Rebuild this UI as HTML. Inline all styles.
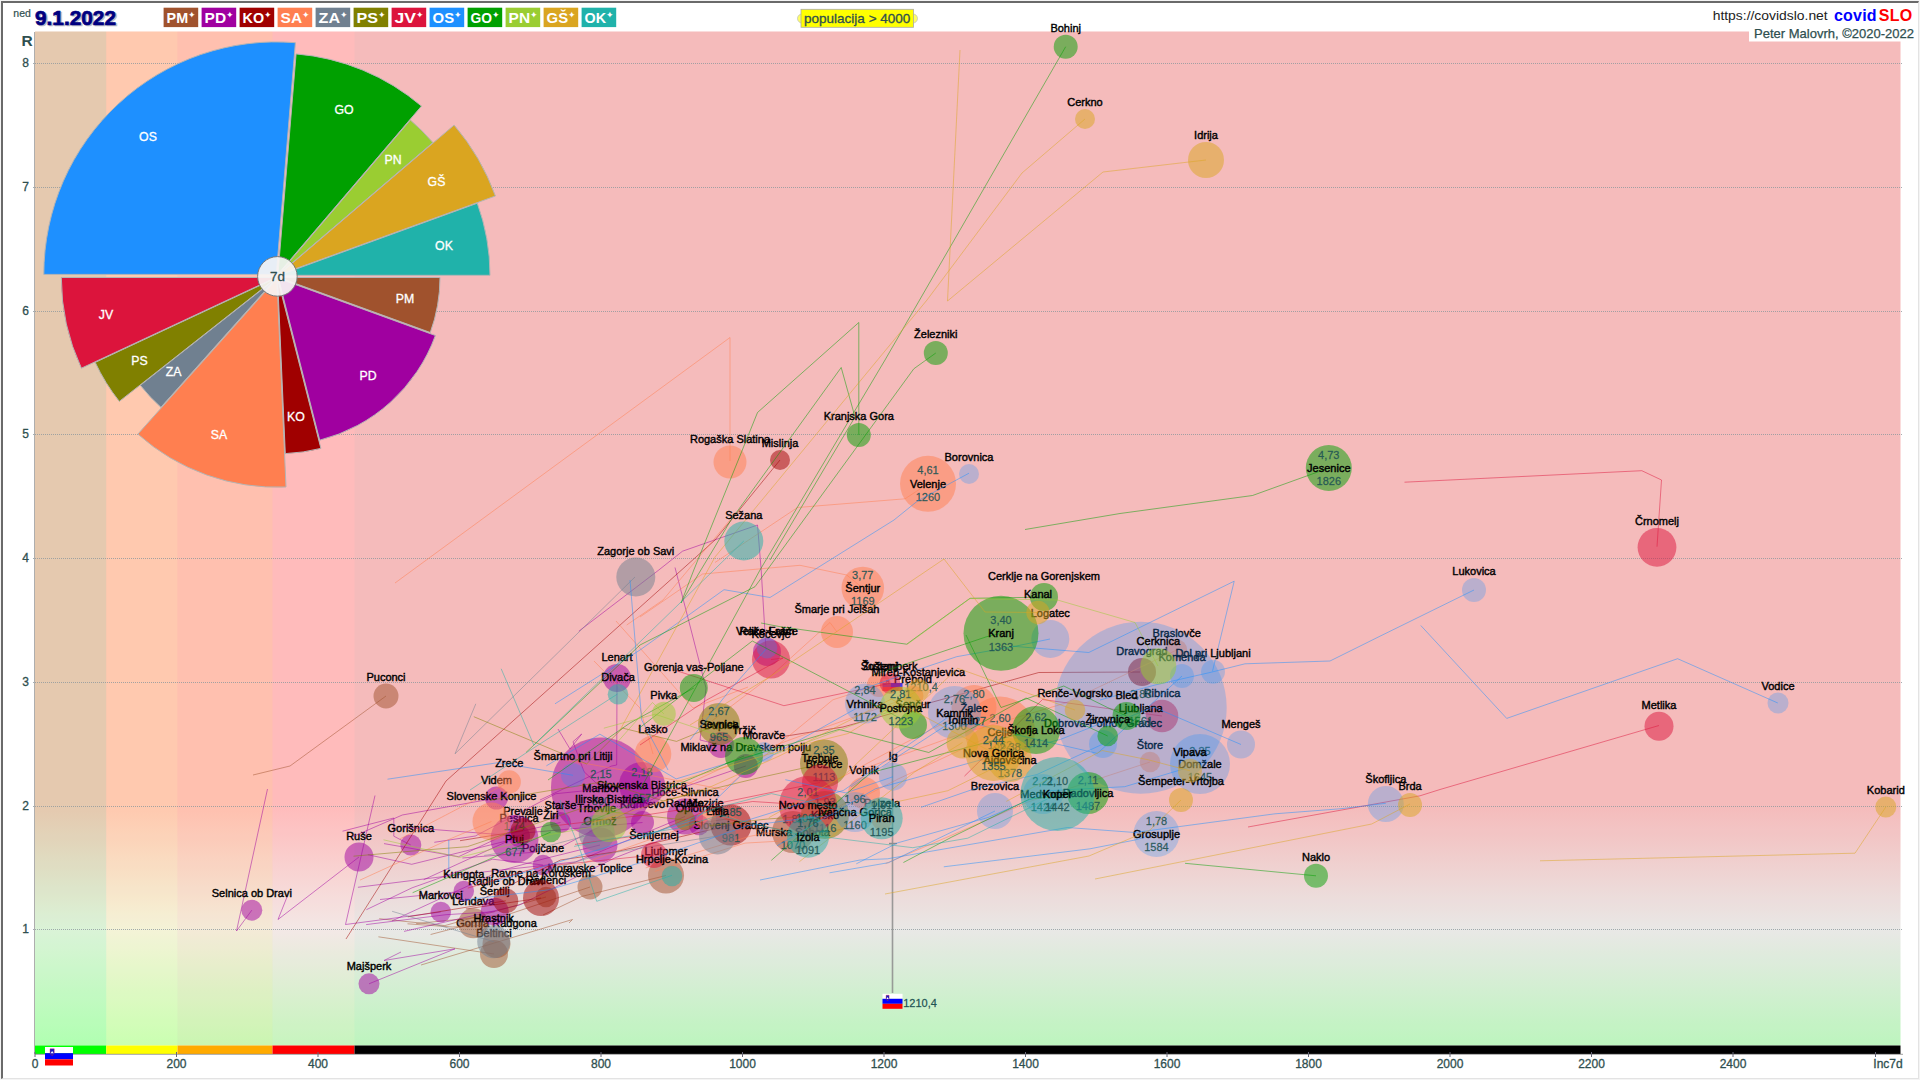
<!DOCTYPE html>
<html lang="sl"><head><meta charset="utf-8"><title>covidSLO</title>
<style>
html,body{margin:0;padding:0;background:#fff;}
body{width:1920px;height:1080px;overflow:hidden;position:relative;font-family:"Liberation Sans", sans-serif;}
#frame{position:absolute;left:0;top:0;width:1920px;height:1080px;box-sizing:border-box;border:1px solid #f4f4f4;}
#frame2{position:absolute;left:1px;top:1px;width:1918px;height:1078px;box-sizing:border-box;border-style:solid;border-width:2px 1px 1px 2px;border-color:#6a6a6a #e3e3e3 #e3e3e3 #6a6a6a;}
svg{position:absolute;left:0;top:0;}
text{font-family:"Liberation Sans", sans-serif;}
.lb{font-size:11px;fill:#000;text-anchor:middle;stroke:#000;stroke-width:0.4px;}
.nm{font-size:11px;fill:#1f5454;text-anchor:middle;fill-opacity:.9;stroke:#1f5454;stroke-width:.3px;stroke-opacity:.8}
.ax{font-size:12px;fill:#2f4f4f;stroke:#2f4f4f;stroke-width:0.3px;}
.pl{font-size:12.3px;fill:#fff;text-anchor:middle;stroke:#fff;stroke-width:0.3px;}
.lg{font-size:15.5px;fill:#fff;font-weight:bold;}
</style></head><body>
<svg width="1920" height="1080" viewBox="0 0 1920 1080">
<defs>
<linearGradient id="bg" x1="0" y1="31.5" x2="0" y2="1045.5" gradientUnits="userSpaceOnUse">
<stop offset="0.0000" stop-color="rgb(255,195,195)"/>
<stop offset="0.7638" stop-color="rgb(255,195,195)"/>
<stop offset="0.8861" stop-color="rgb(243,242,240)"/>
<stop offset="0.9995" stop-color="rgb(197,255,198)"/>
</linearGradient>
<clipPath id="cp"><rect x="35" y="20" width="1881" height="1025.5"/></clipPath>
</defs>
<rect x="35" y="31.5" width="1865.5" height="1014" fill="url(#bg)"/>
<rect x="35" y="31.5" width="71.25" height="1014" fill="#00ff00" fill-opacity="0.1"/>
<rect x="106.25" y="31.5" width="71.25" height="1014" fill="#ffff00" fill-opacity="0.1"/>
<rect x="177.5" y="31.5" width="95" height="1014" fill="#ffa500" fill-opacity="0.1"/>
<rect x="272.5" y="31.5" width="82" height="1014" fill="#ff0000" fill-opacity="0.04"/>
<rect x="354.5" y="31.5" width="1546" height="1014" fill="#000" fill-opacity="0.04"/>
<line x1="33" y1="929.5" x2="1902" y2="929.5" stroke="#8d999d" stroke-width="1" stroke-dasharray="1 1" stroke-opacity=".8"/>
<text class="ax" x="25.7" y="933.3" text-anchor="middle">1</text>
<line x1="33" y1="806.5" x2="1902" y2="806.5" stroke="#8d999d" stroke-width="1" stroke-dasharray="1 1" stroke-opacity=".8"/>
<text class="ax" x="25.7" y="810.3" text-anchor="middle">2</text>
<line x1="33" y1="682.5" x2="1902" y2="682.5" stroke="#8d999d" stroke-width="1" stroke-dasharray="1 1" stroke-opacity=".8"/>
<text class="ax" x="25.7" y="686.3" text-anchor="middle">3</text>
<line x1="33" y1="558.5" x2="1902" y2="558.5" stroke="#8d999d" stroke-width="1" stroke-dasharray="1 1" stroke-opacity=".8"/>
<text class="ax" x="25.7" y="562.3" text-anchor="middle">4</text>
<line x1="33" y1="434.5" x2="1902" y2="434.5" stroke="#8d999d" stroke-width="1" stroke-dasharray="1 1" stroke-opacity=".8"/>
<text class="ax" x="25.7" y="438.3" text-anchor="middle">5</text>
<line x1="33" y1="311.5" x2="1902" y2="311.5" stroke="#8d999d" stroke-width="1" stroke-dasharray="1 1" stroke-opacity=".8"/>
<text class="ax" x="25.7" y="315.3" text-anchor="middle">6</text>
<line x1="33" y1="187.5" x2="1902" y2="187.5" stroke="#8d999d" stroke-width="1" stroke-dasharray="1 1" stroke-opacity=".8"/>
<text class="ax" x="25.7" y="191.3" text-anchor="middle">7</text>
<line x1="33" y1="63.5" x2="1902" y2="63.5" stroke="#8d999d" stroke-width="1" stroke-dasharray="1 1" stroke-opacity=".8"/>
<text class="ax" x="25.7" y="67.3" text-anchor="middle">8</text>
<text x="27" y="46" text-anchor="middle" style="font-size:15.5px;font-weight:bold;fill:#2f4f4f">R</text>
<rect x="35" y="1045.5" width="71.25" height="8.5" fill="#00ff00"/>
<rect x="106.25" y="1045.5" width="71.25" height="8.5" fill="#ffff00"/>
<rect x="177.5" y="1045.5" width="95" height="8.5" fill="#ffaa00"/>
<rect x="272.5" y="1045.5" width="82" height="8.5" fill="#ff0000"/>
<rect x="354.5" y="1045.5" width="1546" height="8.5" fill="#000"/>
<line x1="35" y1="1054.3" x2="1903" y2="1054.3" stroke="#888" stroke-width="0.8"/>
<line x1="34.5" y1="32" x2="34.5" y2="1054" stroke="#999" stroke-width="0.8"/>
<line x1="35.0" y1="1052" x2="35.0" y2="1057" stroke="#667" stroke-width="1"/>
<text class="ax" x="35.0" y="1067.5" text-anchor="middle">0</text>
<line x1="176.5" y1="1052" x2="176.5" y2="1057" stroke="#667" stroke-width="1"/>
<text class="ax" x="176.5" y="1067.5" text-anchor="middle">200</text>
<line x1="318.0" y1="1052" x2="318.0" y2="1057" stroke="#667" stroke-width="1"/>
<text class="ax" x="318.0" y="1067.5" text-anchor="middle">400</text>
<line x1="459.5" y1="1052" x2="459.5" y2="1057" stroke="#667" stroke-width="1"/>
<text class="ax" x="459.5" y="1067.5" text-anchor="middle">600</text>
<line x1="601.0" y1="1052" x2="601.0" y2="1057" stroke="#667" stroke-width="1"/>
<text class="ax" x="601.0" y="1067.5" text-anchor="middle">800</text>
<line x1="742.5" y1="1052" x2="742.5" y2="1057" stroke="#667" stroke-width="1"/>
<text class="ax" x="742.5" y="1067.5" text-anchor="middle">1000</text>
<line x1="884.0" y1="1052" x2="884.0" y2="1057" stroke="#667" stroke-width="1"/>
<text class="ax" x="884.0" y="1067.5" text-anchor="middle">1200</text>
<line x1="1025.5" y1="1052" x2="1025.5" y2="1057" stroke="#667" stroke-width="1"/>
<text class="ax" x="1025.5" y="1067.5" text-anchor="middle">1400</text>
<line x1="1167.0" y1="1052" x2="1167.0" y2="1057" stroke="#667" stroke-width="1"/>
<text class="ax" x="1167.0" y="1067.5" text-anchor="middle">1600</text>
<line x1="1308.5" y1="1052" x2="1308.5" y2="1057" stroke="#667" stroke-width="1"/>
<text class="ax" x="1308.5" y="1067.5" text-anchor="middle">1800</text>
<line x1="1450.0" y1="1052" x2="1450.0" y2="1057" stroke="#667" stroke-width="1"/>
<text class="ax" x="1450.0" y="1067.5" text-anchor="middle">2000</text>
<line x1="1591.5" y1="1052" x2="1591.5" y2="1057" stroke="#667" stroke-width="1"/>
<text class="ax" x="1591.5" y="1067.5" text-anchor="middle">2200</text>
<line x1="1733.0" y1="1052" x2="1733.0" y2="1057" stroke="#667" stroke-width="1"/>
<text class="ax" x="1733.0" y="1067.5" text-anchor="middle">2400</text>
<line x1="1875.5" y1="1052" x2="1875.5" y2="1057" stroke="#667" stroke-width="1"/>
<text class="ax" x="1888" y="1067.5" text-anchor="middle">Inc7d</text>
<line x1="892.5" y1="722" x2="892.5" y2="993" stroke="#8c8c8c" stroke-width="1.6" stroke-opacity=".85"/>
<line x1="889" y1="843.5" x2="897" y2="843.5" stroke="#8c8c8c" stroke-width="1.4"/>
<g opacity="0.7"><rect x="882.5" y="679" width="20" height="4" fill="#fff"/><rect x="882.5" y="683" width="20" height="4" fill="#0000ff"/><rect x="882.5" y="687" width="20" height="4" fill="#ff0000"/><path d="M886.1 680.2 h3 v3 l-1.5 1.56 l-1.5 -1.56 z" fill="#1a1acc" stroke="#d22" stroke-width="0.35"/><path d="M886.5 683.08 l1.1 -1.44 l1.1 1.44 z" fill="#fff"/></g>
<text class="nm" x="921" y="690.7">1210,4</text>
<g opacity="1"><rect x="882.5" y="993.8" width="20" height="5" fill="#fff"/><rect x="882.5" y="998.8" width="20" height="5" fill="#0000ff"/><rect x="882.5" y="1003.8" width="20" height="5" fill="#ff0000"/><path d="M886.1 995.3 h3 v3.75 l-1.5 1.95 l-1.5 -1.95 z" fill="#1a1acc" stroke="#d22" stroke-width="0.35"/><path d="M886.5 998.9 l1.1 -1.8 l1.1 1.8 z" fill="#fff"/></g>
<text class="nm" x="920" y="1006.5" style="fill-opacity:1">1210,4</text>
<g clip-path="url(#cp)">
<circle cx="494.0" cy="954.0" r="14.0" fill="rgb(160,82,45)" fill-opacity="0.5"/>
<polyline points="378.4,936.8 494.0,954.0" fill="none" stroke="rgb(160,82,45)" stroke-opacity=".55" stroke-width=".9"/>
<text class="lb" x="494.0" y="937.0">Beltinci</text>
<circle cx="496.5" cy="944.0" r="14.0" fill="rgb(160,82,45)" fill-opacity="0.5"/>
<polyline points="496.5,944.0" fill="none" stroke="rgb(160,82,45)" stroke-opacity=".55" stroke-width=".9"/>
<text class="lb" x="496.5" y="927.0">Gornja Radgona</text>
<circle cx="473.3" cy="923.3" r="15.0" fill="rgb(160,82,45)" fill-opacity="0.5"/>
<polyline points="430.6,934.5 473.3,923.3" fill="none" stroke="rgb(160,82,45)" stroke-opacity=".55" stroke-width=".9"/>
<text class="lb" x="473.3" y="905.3">Lendava</text>
<circle cx="666.0" cy="875.5" r="18.0" fill="rgb(160,82,45)" fill-opacity="0.5"/>
<polyline points="543.0,915.0 581.9,896.4 666.0,875.5" fill="none" stroke="rgb(160,82,45)" stroke-opacity=".55" stroke-width=".9"/>
<text class="lb" x="666.0" y="854.5">Ljutomer</text>
<circle cx="590.0" cy="887.0" r="12.5" fill="rgb(160,82,45)" fill-opacity="0.5"/>
<polyline points="416.1,923.6 509.0,914.2 590.0,887.0" fill="none" stroke="rgb(160,82,45)" stroke-opacity=".55" stroke-width=".9"/>
<text class="lb" x="590.0" y="871.5">Moravske Toplice</text>
<circle cx="793.0" cy="832.0" r="21.0" fill="rgb(160,82,45)" fill-opacity="0.5"/>
<polyline points="686.3,825.2 726.3,819.0 793.0,832.0" fill="none" stroke="rgb(160,82,45)" stroke-opacity=".55" stroke-width=".9"/>
<text class="nm" x="793.0" y="822.7">1,81</text>
<text class="lb" x="793.0" y="836.0">Murska Sobota</text>
<text class="nm" x="793.0" y="849.3">1070</text>
<circle cx="386.0" cy="696.0" r="12.5" fill="rgb(160,82,45)" fill-opacity="0.5"/>
<polyline points="253.0,775.0 290.0,766.0 386.0,696.0" fill="none" stroke="rgb(160,82,45)" stroke-opacity=".55" stroke-width=".9"/>
<text class="lb" x="386.0" y="680.5">Puconci</text>
<circle cx="546.0" cy="897.0" r="10.3" fill="rgb(160,82,45)" fill-opacity="0.5"/>
<polyline points="379.2,918.7 444.9,925.6 546.0,897.0" fill="none" stroke="rgb(160,82,45)" stroke-opacity=".55" stroke-width=".9"/>
<text class="lb" x="546.0" y="883.7">Radenci</text>
<polyline points="421.0,965.0 572.5,919.5 569.0,923.0" fill="none" stroke="rgb(160,82,45)" stroke-opacity=".55" stroke-width=".9"/>
<polyline points="407.5,923.8 452.5,927.0 490.0,925.0" fill="none" stroke="rgb(160,82,45)" stroke-opacity=".55" stroke-width=".9"/>
<circle cx="721.0" cy="745.0" r="13.0" fill="rgb(160,0,160)" fill-opacity="0.5"/>
<polyline points="675.0,567.5 706.0,688.0 700.0,740.0 721.0,745.0" fill="none" stroke="rgb(160,0,160)" stroke-opacity=".55" stroke-width=".9"/>
<text class="lb" x="721.0" y="729.0">Duplek</text>
<circle cx="410.8" cy="845.0" r="10.5" fill="rgb(160,0,160)" fill-opacity="0.5"/>
<polyline points="342.5,831.2 393.8,818.0 393.8,836.2 410.8,845.0" fill="none" stroke="rgb(160,0,160)" stroke-opacity=".55" stroke-width=".9"/>
<text class="lb" x="410.8" y="831.5">Gorišnica</text>
<circle cx="685.0" cy="816.5" r="18.0" fill="rgb(160,0,160)" fill-opacity="0.5"/>
<polyline points="357.9,887.3 457.3,874.8 575.6,861.9 685.0,816.5" fill="none" stroke="rgb(160,0,160)" stroke-opacity=".55" stroke-width=".9"/>
<text class="lb" x="685.0" y="795.5">Hoče-Slivnica</text>
<circle cx="642.5" cy="822.5" r="11.5" fill="rgb(160,0,160)" fill-opacity="0.5"/>
<polyline points="423.7,879.7 525.7,832.9 642.5,822.5" fill="none" stroke="rgb(160,0,160)" stroke-opacity=".55" stroke-width=".9"/>
<text class="lb" x="642.5" y="808.0">Kidričevo</text>
<circle cx="463.8" cy="891.0" r="10.3" fill="rgb(160,0,160)" fill-opacity="0.5"/>
<polyline points="380.0,899.5 463.8,891.2" fill="none" stroke="rgb(160,0,160)" stroke-opacity=".55" stroke-width=".9"/>
<text class="lb" x="463.8" y="877.7">Kungota</text>
<circle cx="617.0" cy="678.0" r="14.0" fill="rgb(160,0,160)" fill-opacity="0.5"/>
<polyline points="540.0,800.0 611.7,766.0 616.7,765.0 617.0,678.0" fill="none" stroke="rgb(160,0,160)" stroke-opacity=".55" stroke-width=".9"/>
<text class="lb" x="617.0" y="661.0">Lenart</text>
<circle cx="369.0" cy="983.8" r="10.5" fill="rgb(160,0,160)" fill-opacity="0.5"/>
<polyline points="401.0,952.0 384.0,960.5 455.0,948.8 369.0,983.8" fill="none" stroke="rgb(160,0,160)" stroke-opacity=".55" stroke-width=".9"/>
<text class="lb" x="369.0" y="970.2">Majšperk</text>
<circle cx="601.0" cy="787.5" r="50.0" fill="rgb(160,0,160)" fill-opacity="0.5"/>
<polyline points="558.0,729.0 570.0,749.0 581.7,734.0 573.0,741.7 584.0,771.7 601.0,787.5" fill="none" stroke="rgb(160,0,160)" stroke-opacity=".55" stroke-width=".9"/>
<text class="nm" x="601.0" y="778.2">2,15</text>
<text class="lb" x="601.0" y="791.5">Maribor</text>
<text class="nm" x="601.0" y="804.8">800</text>
<circle cx="440.8" cy="912.0" r="10.3" fill="rgb(160,0,160)" fill-opacity="0.5"/>
<polyline points="375.0,795.5 345.5,924.5 440.8,912.0" fill="none" stroke="rgb(160,0,160)" stroke-opacity=".55" stroke-width=".9"/>
<text class="lb" x="440.8" y="898.7">Markovci</text>
<circle cx="745.8" cy="766.0" r="12.0" fill="rgb(160,0,160)" fill-opacity="0.5"/>
<polyline points="462.4,858.0 553.9,850.6 660.3,795.1 745.8,766.0" fill="none" stroke="rgb(160,0,160)" stroke-opacity=".55" stroke-width=".9"/>
<text class="lb" x="745.8" y="751.0">Miklavž na Dravskem polju</text>
<circle cx="699.0" cy="825.0" r="10.3" fill="rgb(160,0,160)" fill-opacity="0.5"/>
<polyline points="404.0,931.4 519.0,905.2 614.9,857.9 699.0,825.0" fill="none" stroke="rgb(160,0,160)" stroke-opacity=".55" stroke-width=".9"/>
<text class="lb" x="699.0" y="811.7">Oplotnica</text>
<circle cx="600.0" cy="845.0" r="17.5" fill="rgb(160,0,160)" fill-opacity="0.5"/>
<polyline points="392.0,920.9 502.1,870.2 544.0,858.8 600.0,845.0" fill="none" stroke="rgb(160,0,160)" stroke-opacity=".55" stroke-width=".9"/>
<text class="lb" x="600.0" y="824.5">Ormož</text>
<circle cx="519.0" cy="836.0" r="11.0" fill="rgb(160,0,160)" fill-opacity="0.5"/>
<polyline points="402.6,827.2 519.0,836.0" fill="none" stroke="rgb(160,0,160)" stroke-opacity=".55" stroke-width=".9"/>
<text class="lb" x="519.0" y="822.0">Pesnica</text>
<circle cx="543.0" cy="865.0" r="10.3" fill="rgb(160,0,160)" fill-opacity="0.5"/>
<polyline points="366.4,909.7 412.1,887.8 492.5,859.2 543.0,865.0" fill="none" stroke="rgb(160,0,160)" stroke-opacity=".55" stroke-width=".9"/>
<text class="lb" x="543.0" y="851.7">Poljčane</text>
<circle cx="514.5" cy="839.0" r="24.0" fill="rgb(160,0,160)" fill-opacity="0.5"/>
<polyline points="367.9,854.7 411.7,864.3 514.5,839.0" fill="none" stroke="rgb(160,0,160)" stroke-opacity=".55" stroke-width=".9"/>
<text class="nm" x="514.5" y="829.7">1,74</text>
<text class="lb" x="514.5" y="843.0">Ptuj</text>
<text class="nm" x="514.5" y="856.3">677</text>
<circle cx="767.0" cy="652.0" r="14.0" fill="rgb(160,0,160)" fill-opacity="0.5"/>
<polyline points="578.8,631.2 658.8,570.0 682.5,551.2 757.5,525.0 761.2,570.0 766.0,650.0" fill="none" stroke="rgb(160,0,160)" stroke-opacity=".55" stroke-width=".9"/>
<text class="lb" x="767.0" y="635.0">Rače-Fram</text>
<circle cx="359.0" cy="857.0" r="14.5" fill="rgb(160,0,160)" fill-opacity="0.5"/>
<polyline points="287.0,897.0 278.0,919.5 359.0,857.0" fill="none" stroke="rgb(160,0,160)" stroke-opacity=".55" stroke-width=".9"/>
<text class="lb" x="359.0" y="839.5">Ruše</text>
<circle cx="251.8" cy="910.2" r="10.5" fill="rgb(160,0,160)" fill-opacity="0.5"/>
<polyline points="267.5,789.0 236.5,931.0 251.8,910.2" fill="none" stroke="rgb(160,0,160)" stroke-opacity=".55" stroke-width=".9"/>
<text class="lb" x="251.8" y="896.8">Selnica ob Dravi</text>
<circle cx="642.0" cy="785.0" r="23.0" fill="rgb(160,0,160)" fill-opacity="0.5"/>
<polyline points="434.3,842.3 475.3,836.0 555.9,793.7 642.0,785.0" fill="none" stroke="rgb(160,0,160)" stroke-opacity=".55" stroke-width=".9"/>
<text class="nm" x="642.0" y="775.7">2,18</text>
<text class="lb" x="642.0" y="789.0">Slovenska Bistrica</text>
<text class="nm" x="642.0" y="802.3">857</text>
<circle cx="560.5" cy="822.5" r="10.5" fill="rgb(160,0,160)" fill-opacity="0.5"/>
<polyline points="384.0,843.6 458.6,856.7 504.1,835.1 560.5,822.5" fill="none" stroke="rgb(160,0,160)" stroke-opacity=".55" stroke-width=".9"/>
<text class="lb" x="560.5" y="809.0">Starše</text>
<circle cx="494.7" cy="911.7" r="14.0" fill="rgb(160,0,160)" fill-opacity="0.5"/>
<polyline points="366.1,924.6 446.0,914.7 494.7,911.7" fill="none" stroke="rgb(160,0,160)" stroke-opacity=".55" stroke-width=".9"/>
<text class="lb" x="494.7" y="894.7">Šentilj</text>
<circle cx="496.5" cy="798.0" r="11.5" fill="rgb(160,0,160)" fill-opacity="0.5"/>
<polyline points="353.1,836.5 402.3,815.0 496.5,798.0" fill="none" stroke="rgb(160,0,160)" stroke-opacity=".55" stroke-width=".9"/>
<text class="lb" x="496.5" y="783.5">Videm</text>
<circle cx="1142.0" cy="672.0" r="14.0" fill="rgb(160,0,0)" fill-opacity="0.5"/>
<polyline points="780.0,737.0 843.0,727.0 1038.8,672.5 1140.0,672.0" fill="none" stroke="rgb(160,0,0)" stroke-opacity=".55" stroke-width=".9"/>
<text class="lb" x="1142.0" y="655.0">Dravograd</text>
<circle cx="780.0" cy="460.0" r="10.0" fill="rgb(160,0,0)" fill-opacity="0.5"/>
<polyline points="346.0,939.0 446.0,781.0 715.0,540.0 780.0,460.0" fill="none" stroke="rgb(160,0,0)" stroke-opacity=".55" stroke-width=".9"/>
<text class="lb" x="780.0" y="447.0">Mislinja</text>
<circle cx="523.0" cy="830.5" r="12.5" fill="rgb(160,0,0)" fill-opacity="0.5"/>
<polyline points="460.0,840.7 523.0,830.5" fill="none" stroke="rgb(160,0,0)" stroke-opacity=".55" stroke-width=".9"/>
<text class="lb" x="523.0" y="815.0">Prevalje</text>
<circle cx="505.8" cy="900.8" r="12.5" fill="rgb(160,0,0)" fill-opacity="0.5"/>
<polyline points="407.9,916.8 505.8,900.8" fill="none" stroke="rgb(160,0,0)" stroke-opacity=".55" stroke-width=".9"/>
<text class="lb" x="505.8" y="885.3">Radlje ob Dravi</text>
<circle cx="541.0" cy="898.0" r="18.0" fill="rgb(160,0,0)" fill-opacity="0.5"/>
<polyline points="465.9,909.0 541.0,898.0" fill="none" stroke="rgb(160,0,0)" stroke-opacity=".55" stroke-width=".9"/>
<text class="lb" x="541.0" y="877.0">Ravne na Koroškem</text>
<circle cx="731.0" cy="825.0" r="20.5" fill="rgb(160,0,0)" fill-opacity="0.5"/>
<polyline points="472.5,904.1 560.5,860.0 614.8,852.0 731.0,825.0" fill="none" stroke="rgb(160,0,0)" stroke-opacity=".55" stroke-width=".9"/>
<text class="nm" x="731.0" y="815.7">1,85</text>
<text class="lb" x="731.0" y="829.0">Slovenj Gradec</text>
<text class="nm" x="731.0" y="842.3">981</text>
<circle cx="1176.7" cy="650.0" r="10.5" fill="rgb(255,127,80)" fill-opacity="0.5"/>
<polyline points="863.0,769.0 958.5,734.7 1064.4,703.4 1176.7,650.0" fill="none" stroke="rgb(255,127,80)" stroke-opacity=".55" stroke-width=".9"/>
<text class="lb" x="1176.7" y="636.5">Braslovče</text>
<circle cx="1000.0" cy="731.5" r="35.0" fill="rgb(255,127,80)" fill-opacity="0.5"/>
<polyline points="664.9,785.8 780.3,839.8 897.9,779.1 1000.0,731.5" fill="none" stroke="rgb(255,127,80)" stroke-opacity=".55" stroke-width=".9"/>
<text class="nm" x="1000.0" y="722.2">2,60</text>
<text class="lb" x="1000.0" y="735.5">Celje</text>
<text class="nm" x="1000.0" y="748.8">1362</text>
<circle cx="653.0" cy="754.0" r="18.3" fill="rgb(255,127,80)" fill-opacity="0.5"/>
<polyline points="594.0,661.0 640.0,708.0 653.0,754.0" fill="none" stroke="rgb(255,127,80)" stroke-opacity=".55" stroke-width=".9"/>
<text class="lb" x="653.0" y="732.7">Laško</text>
<circle cx="706.0" cy="820.0" r="10.3" fill="rgb(255,127,80)" fill-opacity="0.5"/>
<polyline points="577.9,865.2 668.7,832.9 706.0,820.0" fill="none" stroke="rgb(255,127,80)" stroke-opacity=".55" stroke-width=".9"/>
<text class="lb" x="706.0" y="806.7">Mozirje</text>
<circle cx="882.0" cy="820.0" r="10.3" fill="rgb(255,127,80)" fill-opacity="0.5"/>
<polyline points="654.8,871.4 745.0,843.1 791.1,840.5 882.0,820.0" fill="none" stroke="rgb(255,127,80)" stroke-opacity=".55" stroke-width=".9"/>
<text class="lb" x="882.0" y="806.7">Polzela</text>
<circle cx="913.0" cy="696.0" r="10.5" fill="rgb(255,127,80)" fill-opacity="0.5"/>
<polyline points="656.9,798.2 756.8,752.1 794.1,738.3 913.0,696.0" fill="none" stroke="rgb(255,127,80)" stroke-opacity=".55" stroke-width=".9"/>
<text class="lb" x="913.0" y="682.5">Prebold</text>
<circle cx="730.0" cy="462.0" r="16.5" fill="rgb(255,127,80)" fill-opacity="0.5"/>
<polyline points="395.0,583.0 730.0,337.5 730.0,461.0" fill="none" stroke="rgb(255,127,80)" stroke-opacity=".55" stroke-width=".9"/>
<text class="lb" x="730.0" y="442.5">Rogaška Slatina</text>
<circle cx="491.5" cy="821.5" r="19.0" fill="rgb(255,127,80)" fill-opacity="0.5"/>
<polyline points="360.0,880.1 451.3,838.4 491.5,821.5" fill="none" stroke="rgb(255,127,80)" stroke-opacity=".55" stroke-width=".9"/>
<text class="lb" x="491.5" y="799.5">Slovenske Konjice</text>
<circle cx="862.8" cy="588.0" r="21.3" fill="rgb(255,127,80)" fill-opacity="0.5"/>
<polyline points="640.0,617.0 702.5,574.0 800.0,565.3 846.7,575.0 862.8,588.0" fill="none" stroke="rgb(255,127,80)" stroke-opacity=".55" stroke-width=".9"/>
<text class="nm" x="862.8" y="578.7">3,77</text>
<text class="lb" x="862.8" y="592.0">Šentjur</text>
<text class="nm" x="862.8" y="605.3">1169</text>
<circle cx="837.0" cy="632.0" r="16.0" fill="rgb(255,127,80)" fill-opacity="0.5"/>
<polyline points="700.0,730.0 770.0,676.7 830.0,622.5 837.0,632.0" fill="none" stroke="rgb(255,127,80)" stroke-opacity=".55" stroke-width=".9"/>
<text class="lb" x="837.0" y="613.0">Šmarje pri Jelšah</text>
<circle cx="879.0" cy="685.0" r="12.0" fill="rgb(255,127,80)" fill-opacity="0.5"/>
<polyline points="535.1,754.5 622.7,770.1 723.7,789.5 832.9,699.8 879.0,685.0" fill="none" stroke="rgb(255,127,80)" stroke-opacity=".55" stroke-width=".9"/>
<text class="lb" x="879.0" y="670.0">Šoštanj</text>
<circle cx="1150.0" cy="762.0" r="10.3" fill="rgb(255,127,80)" fill-opacity="0.5"/>
<polyline points="885.6,863.6 968.4,828.0 1026.9,802.4 1070.9,787.9 1150.0,762.0" fill="none" stroke="rgb(255,127,80)" stroke-opacity=".55" stroke-width=".9"/>
<text class="lb" x="1150.0" y="748.7">Štore</text>
<circle cx="928.0" cy="483.8" r="28.0" fill="rgb(255,127,80)" fill-opacity="0.5"/>
<polyline points="715.0,562.5 797.5,507.5 905.0,498.8 928.0,483.8" fill="none" stroke="rgb(255,127,80)" stroke-opacity=".55" stroke-width=".9"/>
<text class="nm" x="928.0" y="474.4">4,61</text>
<text class="lb" x="928.0" y="487.8">Velenje</text>
<text class="nm" x="928.0" y="501.1">1260</text>
<circle cx="864.0" cy="793.0" r="16.0" fill="rgb(255,127,80)" fill-opacity="0.5"/>
<polyline points="645.7,867.9 749.4,836.4 801.3,826.6 864.0,793.0" fill="none" stroke="rgb(255,127,80)" stroke-opacity=".55" stroke-width=".9"/>
<text class="lb" x="864.0" y="774.0">Vojnik</text>
<circle cx="509.2" cy="782.0" r="11.7" fill="rgb(255,127,80)" fill-opacity="0.5"/>
<polyline points="399.7,839.1 509.2,782.0" fill="none" stroke="rgb(255,127,80)" stroke-opacity=".55" stroke-width=".9"/>
<text class="lb" x="509.2" y="767.3">Zreče</text>
<circle cx="974.0" cy="707.5" r="22.5" fill="rgb(255,127,80)" fill-opacity="0.5"/>
<polyline points="811.5,793.6 903.6,743.7 974.0,707.5" fill="none" stroke="rgb(255,127,80)" stroke-opacity=".55" stroke-width=".9"/>
<text class="nm" x="974.0" y="698.2">2,80</text>
<text class="lb" x="974.0" y="711.5">Žalec</text>
<text class="nm" x="974.0" y="724.8">1327</text>
<polyline points="616.0,621.0 693.0,708.0 748.0,687.0" fill="none" stroke="rgb(255,127,80)" stroke-opacity=".55" stroke-width=".9"/>
<polyline points="626.7,625.0 663.0,600.0 730.0,520.0" fill="none" stroke="rgb(255,127,80)" stroke-opacity=".55" stroke-width=".9"/>
<circle cx="493.7" cy="941.7" r="16.5" fill="rgb(112,128,144)" fill-opacity="0.5"/>
<polyline points="392.1,911.3 493.7,941.7" fill="none" stroke="rgb(112,128,144)" stroke-opacity=".55" stroke-width=".9"/>
<text class="lb" x="493.7" y="922.2">Hrastnik</text>
<circle cx="717.5" cy="836.0" r="18.5" fill="rgb(112,128,144)" fill-opacity="0.5"/>
<polyline points="531.4,875.0 600.3,854.7 717.5,836.0" fill="none" stroke="rgb(112,128,144)" stroke-opacity=".55" stroke-width=".9"/>
<text class="lb" x="717.5" y="814.5">Litija</text>
<circle cx="596.7" cy="833.0" r="18.0" fill="rgb(112,128,144)" fill-opacity="0.5"/>
<polyline points="484.2,855.4 548.0,845.9 596.7,833.0" fill="none" stroke="rgb(112,128,144)" stroke-opacity=".55" stroke-width=".9"/>
<text class="lb" x="596.7" y="812.0">Trbovlje</text>
<circle cx="635.8" cy="577.0" r="19.5" fill="rgb(112,128,144)" fill-opacity="0.5"/>
<polyline points="475.8,703.8 455.0,753.8 635.0,577.0" fill="none" stroke="rgb(112,128,144)" stroke-opacity=".55" stroke-width=".9"/>
<text class="lb" x="635.8" y="554.5">Zagorje ob Savi</text>
<circle cx="824.0" cy="763.5" r="24.0" fill="rgb(128,128,0)" fill-opacity="0.5"/>
<polyline points="489.9,800.4 603.0,781.8 663.1,800.9 757.9,778.0 824.0,763.5" fill="none" stroke="rgb(128,128,0)" stroke-opacity=".55" stroke-width=".9"/>
<text class="nm" x="824.0" y="754.2">2,35</text>
<text class="lb" x="824.0" y="767.5">Brežice</text>
<text class="nm" x="824.0" y="780.8">1113</text>
<circle cx="825.0" cy="815.0" r="24.0" fill="rgb(128,128,0)" fill-opacity="0.5"/>
<polyline points="709.4,825.7 767.4,819.0 825.0,815.0" fill="none" stroke="rgb(128,128,0)" stroke-opacity=".55" stroke-width=".9"/>
<text class="nm" x="825.0" y="805.7">1,93</text>
<text class="lb" x="825.0" y="819.0">Krško</text>
<text class="nm" x="825.0" y="832.3">1116</text>
<circle cx="685.0" cy="820.0" r="10.3" fill="rgb(128,128,0)" fill-opacity="0.5"/>
<polyline points="353.5,856.2 424.7,850.0 467.3,846.7 580.4,808.7 685.0,820.0" fill="none" stroke="rgb(128,128,0)" stroke-opacity=".55" stroke-width=".9"/>
<text class="lb" x="685.0" y="806.7">Radeče</text>
<circle cx="719.0" cy="724.0" r="21.0" fill="rgb(128,128,0)" fill-opacity="0.5"/>
<polyline points="473.8,716.7 586.6,763.9 622.6,728.1 676.5,741.4 719.0,724.0" fill="none" stroke="rgb(128,128,0)" stroke-opacity=".55" stroke-width=".9"/>
<text class="nm" x="719.0" y="714.7">2,67</text>
<text class="lb" x="719.0" y="728.0">Sevnica</text>
<text class="nm" x="719.0" y="741.3">965</text>
<circle cx="1657.0" cy="547.3" r="19.4" fill="rgb(220,20,60)" fill-opacity="0.5"/>
<polyline points="1404.5,482.2 1641.8,470.7 1661.5,480.0 1657.0,546.7" fill="none" stroke="rgb(220,20,60)" stroke-opacity=".55" stroke-width=".9"/>
<text class="lb" x="1657.0" y="524.9">Črnomelj</text>
<circle cx="771.0" cy="659.6" r="19.0" fill="rgb(220,20,60)" fill-opacity="0.5"/>
<polyline points="640.0,745.0 706.7,700.0 783.0,658.0 771.0,659.6" fill="none" stroke="rgb(220,20,60)" stroke-opacity=".55" stroke-width=".9"/>
<text class="lb" x="771.0" y="637.6">Kočevje</text>
<circle cx="1659.0" cy="726.2" r="14.5" fill="rgb(220,20,60)" fill-opacity="0.5"/>
<polyline points="1248.0,827.0 1420.0,795.8 1440.0,789.5 1659.0,725.5" fill="none" stroke="rgb(220,20,60)" stroke-opacity=".55" stroke-width=".9"/>
<text class="lb" x="1659.0" y="708.8">Metlika</text>
<circle cx="808.0" cy="805.0" r="29.0" fill="rgb(220,20,60)" fill-opacity="0.5"/>
<polyline points="575.0,844.4 652.5,833.6 713.5,807.5 752.7,801.5 808.0,805.0" fill="none" stroke="rgb(220,20,60)" stroke-opacity=".55" stroke-width=".9"/>
<text class="nm" x="808.0" y="795.7">2,01</text>
<text class="lb" x="808.0" y="809.0">Novo mesto</text>
<text class="nm" x="808.0" y="822.3">1093</text>
<circle cx="1162.0" cy="716.0" r="16.3" fill="rgb(220,20,60)" fill-opacity="0.5"/>
<polyline points="964.5,776.1 1042.5,699.5 1162.0,716.0" fill="none" stroke="rgb(220,20,60)" stroke-opacity=".55" stroke-width=".9"/>
<text class="lb" x="1162.0" y="696.7">Ribnica</text>
<circle cx="654.0" cy="855.0" r="13.0" fill="rgb(220,20,60)" fill-opacity="0.5"/>
<polyline points="467.8,888.1 539.6,866.8 654.0,855.0" fill="none" stroke="rgb(220,20,60)" stroke-opacity=".55" stroke-width=".9"/>
<text class="lb" x="654.0" y="839.0">Šentjernej</text>
<circle cx="820.0" cy="782.5" r="18.0" fill="rgb(220,20,60)" fill-opacity="0.5"/>
<polyline points="551.1,826.2 648.0,814.6 702.5,806.5 820.0,782.5" fill="none" stroke="rgb(220,20,60)" stroke-opacity=".55" stroke-width=".9"/>
<text class="lb" x="820.0" y="761.5">Trebnje</text>
<circle cx="890.0" cy="683.3" r="10.5" fill="rgb(220,20,60)" fill-opacity="0.5"/>
<polyline points="674.1,669.9 783.9,705.7 890.0,683.3" fill="none" stroke="rgb(220,20,60)" stroke-opacity=".55" stroke-width=".9"/>
<text class="lb" x="890.0" y="669.8">Žužemberk</text>
<circle cx="969.0" cy="474.0" r="10.0" fill="rgb(30,144,255)" fill-opacity="0.27"/>
<polyline points="555.0,703.8 640.0,650.0 724.0,589.7 770.0,597.5 894.0,520.0 917.5,501.0 969.0,473.2" fill="none" stroke="rgb(30,144,255)" stroke-opacity=".55" stroke-width=".9"/>
<text class="lb" x="969.0" y="461.0">Borovnica</text>
<circle cx="995.0" cy="811.0" r="18.0" fill="rgb(30,144,255)" fill-opacity="0.27"/>
<polyline points="829.5,872.8 888.5,862.7 995.0,811.0" fill="none" stroke="rgb(30,144,255)" stroke-opacity=".55" stroke-width=".9"/>
<text class="lb" x="995.0" y="790.0">Brezovica</text>
<circle cx="1103.0" cy="744.0" r="14.0" fill="rgb(30,144,255)" fill-opacity="0.27"/>
<polyline points="921.0,807.3 974.5,788.8 1037.0,774.5 1103.0,744.0" fill="none" stroke="rgb(30,144,255)" stroke-opacity=".55" stroke-width=".9"/>
<text class="lb" x="1103.0" y="727.0">Dobrova-Polhov Gradec</text>
<circle cx="1213.0" cy="671.7" r="12.0" fill="rgb(30,144,255)" fill-opacity="0.27"/>
<polyline points="1012.5,646.2 1088.8,652.5 1234.2,581.2 1212.5,671.2" fill="none" stroke="rgb(30,144,255)" stroke-opacity=".55" stroke-width=".9"/>
<text class="lb" x="1213.0" y="656.7">Dol pri Ljubljani</text>
<circle cx="1200.0" cy="764.0" r="30.0" fill="rgb(30,144,255)" fill-opacity="0.27"/>
<polyline points="1046.8,790.8 1124.7,786.7 1200.0,764.0" fill="none" stroke="rgb(30,144,255)" stroke-opacity=".55" stroke-width=".9"/>
<text class="nm" x="1200.0" y="754.7">2,35</text>
<text class="lb" x="1200.0" y="768.0">Domžale</text>
<text class="nm" x="1200.0" y="781.3">1645</text>
<circle cx="1156.5" cy="834.0" r="23.0" fill="rgb(30,144,255)" fill-opacity="0.27"/>
<polyline points="943.8,866.8 1090.0,848.8 1135.0,840.0 1156.0,833.8" fill="none" stroke="rgb(30,144,255)" stroke-opacity=".55" stroke-width=".9"/>
<text class="nm" x="1156.5" y="824.7">1,78</text>
<text class="lb" x="1156.5" y="838.0">Grosuplje</text>
<text class="nm" x="1156.5" y="851.3">1584</text>
<circle cx="893.0" cy="776.7" r="14.0" fill="rgb(30,144,255)" fill-opacity="0.27"/>
<polyline points="785.3,779.7 845.8,792.9 893.0,776.7" fill="none" stroke="rgb(30,144,255)" stroke-opacity=".55" stroke-width=".9"/>
<text class="lb" x="893.0" y="759.7">Ig</text>
<circle cx="855.0" cy="812.0" r="20.0" fill="rgb(30,144,255)" fill-opacity="0.27"/>
<polyline points="462.0,900.4 549.6,889.7 645.8,861.1 747.5,825.7 855.0,812.0" fill="none" stroke="rgb(30,144,255)" stroke-opacity=".55" stroke-width=".9"/>
<text class="nm" x="855.0" y="802.7">1,96</text>
<text class="lb" x="855.0" y="816.0">Ivančna Gorica</text>
<text class="nm" x="855.0" y="829.3">1160</text>
<circle cx="954.5" cy="712.5" r="26.5" fill="rgb(30,144,255)" fill-opacity="0.27"/>
<polyline points="739.6,822.7 843.7,790.3 954.5,712.5" fill="none" stroke="rgb(30,144,255)" stroke-opacity=".55" stroke-width=".9"/>
<text class="nm" x="954.5" y="703.2">2,76</text>
<text class="lb" x="954.5" y="716.5">Kamnik</text>
<text class="nm" x="954.5" y="729.8">1300</text>
<circle cx="1182.0" cy="676.0" r="12.0" fill="rgb(30,144,255)" fill-opacity="0.27"/>
<polyline points="851.1,786.8 957.1,718.2 1003.4,731.7 1097.4,753.4 1182.0,676.0" fill="none" stroke="rgb(30,144,255)" stroke-opacity=".55" stroke-width=".9"/>
<text class="lb" x="1182.0" y="661.0">Komenda</text>
<circle cx="1140.7" cy="707.7" r="86.0" fill="rgb(30,144,255)" fill-opacity="0.27"/>
<polyline points="777.0,845.8 875.4,788.8 986.7,758.3 1060.5,739.4 1140.7,707.7" fill="none" stroke="rgb(30,144,255)" stroke-opacity=".55" stroke-width=".9"/>
<text class="nm" x="1140.7" y="698.4">2,88</text>
<text class="lb" x="1140.7" y="711.7">Ljubljana</text>
<text class="nm" x="1140.7" y="725.0">1561</text>
<circle cx="1050.3" cy="639.0" r="19.0" fill="rgb(30,144,255)" fill-opacity="0.27"/>
<polyline points="860.0,690.0 926.7,666.7 956.7,656.7 1013.0,646.7 1050.0,639.0" fill="none" stroke="rgb(30,144,255)" stroke-opacity=".55" stroke-width=".9"/>
<text class="lb" x="1050.3" y="617.0">Logatec</text>
<circle cx="1474.0" cy="590.0" r="12.0" fill="rgb(30,144,255)" fill-opacity="0.27"/>
<polyline points="1100.0,700.0 1155.0,685.0 1210.0,672.5 1245.0,663.8 1330.0,661.0 1380.0,636.2 1474.0,590.0" fill="none" stroke="rgb(30,144,255)" stroke-opacity=".55" stroke-width=".9"/>
<text class="lb" x="1474.0" y="575.0">Lukovica</text>
<circle cx="1043.0" cy="794.0" r="20.0" fill="rgb(30,144,255)" fill-opacity="0.27"/>
<polyline points="856.3,863.8 897.8,842.8 988.0,817.5 1043.0,794.0" fill="none" stroke="rgb(30,144,255)" stroke-opacity=".55" stroke-width=".9"/>
<text class="nm" x="1043.0" y="784.7">2,21</text>
<text class="lb" x="1043.0" y="798.0">Medvode</text>
<text class="nm" x="1043.0" y="811.3">1424</text>
<circle cx="1241.0" cy="744.5" r="14.0" fill="rgb(30,144,255)" fill-opacity="0.27"/>
<polyline points="1106.0,726.2 1153.6,707.0 1241.0,744.5" fill="none" stroke="rgb(30,144,255)" stroke-opacity=".55" stroke-width=".9"/>
<text class="lb" x="1241.0" y="727.5">Mengeš</text>
<circle cx="764.0" cy="752.0" r="10.0" fill="rgb(30,144,255)" fill-opacity="0.27"/>
<polyline points="546.4,765.8 599.9,734.2 676.2,778.9 764.0,752.0" fill="none" stroke="rgb(30,144,255)" stroke-opacity=".55" stroke-width=".9"/>
<text class="lb" x="764.0" y="739.0">Moravče</text>
<circle cx="1385.8" cy="804.0" r="18.0" fill="rgb(30,144,255)" fill-opacity="0.27"/>
<polyline points="760.0,880.0 860.0,860.0 887.5,858.8 1067.5,827.5 1135.0,832.5 1275.0,813.8 1340.0,808.8 1385.8,803.3" fill="none" stroke="rgb(30,144,255)" stroke-opacity=".55" stroke-width=".9"/>
<text class="lb" x="1385.8" y="783.0">Škofljica</text>
<circle cx="573.0" cy="775.3" r="12.0" fill="rgb(30,144,255)" fill-opacity="0.27"/>
<polyline points="387.5,779.2 498.5,762.6 573.0,775.3" fill="none" stroke="rgb(30,144,255)" stroke-opacity=".55" stroke-width=".9"/>
<text class="lb" x="573.0" y="760.3">Šmartno pri Litiji</text>
<circle cx="767.0" cy="648.0" r="10.4" fill="rgb(30,144,255)" fill-opacity="0.27"/>
<polyline points="690.0,740.0 730.0,690.0 767.0,648.0" fill="none" stroke="rgb(30,144,255)" stroke-opacity=".55" stroke-width=".9"/>
<text class="lb" x="767.0" y="634.6">Velike Lašče</text>
<circle cx="1778.0" cy="703.0" r="10.5" fill="rgb(30,144,255)" fill-opacity="0.27"/>
<polyline points="1420.8,625.5 1506.7,718.4 1677.6,658.7 1777.8,703.0" fill="none" stroke="rgb(30,144,255)" stroke-opacity=".55" stroke-width=".9"/>
<text class="lb" x="1778.0" y="689.5">Vodice</text>
<circle cx="865.0" cy="703.5" r="20.0" fill="rgb(30,144,255)" fill-opacity="0.27"/>
<polyline points="494.5,881.6 610.4,846.1 694.9,819.7 747.7,769.1 865.0,703.5" fill="none" stroke="rgb(30,144,255)" stroke-opacity=".55" stroke-width=".9"/>
<text class="nm" x="865.0" y="694.2">2,84</text>
<text class="lb" x="865.0" y="707.5">Vrhnika</text>
<text class="nm" x="865.0" y="720.8">1172</text>
<polyline points="630.0,580.0 641.7,720.0 663.0,760.0 668.0,770.0" fill="none" stroke="rgb(30,144,255)" stroke-opacity=".55" stroke-width=".9"/>
<polyline points="448.8,840.0 448.8,870.0" fill="none" stroke="rgb(30,144,255)" stroke-opacity=".55" stroke-width=".9"/>
<circle cx="1126.5" cy="716.0" r="14.0" fill="rgb(0,160,0)" fill-opacity="0.5"/>
<polyline points="966.0,635.0 1001.0,707.5 1063.8,686.0 1107.5,707.5 1126.5,716.0" fill="none" stroke="rgb(0,160,0)" stroke-opacity=".55" stroke-width=".9"/>
<text class="lb" x="1126.5" y="699.0">Bled</text>
<circle cx="1065.7" cy="46.7" r="12.0" fill="rgb(0,160,0)" fill-opacity="0.5"/>
<polyline points="640.0,790.0 760.0,570.0 885.0,360.0 1065.7,46.7" fill="none" stroke="rgb(0,160,0)" stroke-opacity=".55" stroke-width=".9"/>
<text class="lb" x="1065.7" y="31.7">Bohinj</text>
<circle cx="1044.0" cy="597.0" r="14.0" fill="rgb(0,160,0)" fill-opacity="0.5"/>
<polyline points="761.0,623.0 780.0,626.7 906.7,644.2 970.0,598.3 1020.0,597.5 1044.0,597.0" fill="none" stroke="rgb(0,160,0)" stroke-opacity=".55" stroke-width=".9"/>
<text class="lb" x="1044.0" y="580.0">Cerklje na Gorenjskem</text>
<circle cx="693.8" cy="688.0" r="14.0" fill="rgb(0,160,0)" fill-opacity="0.5"/>
<polyline points="548.0,780.0 630.0,723.0 693.8,688.0" fill="none" stroke="rgb(0,160,0)" stroke-opacity=".55" stroke-width=".9"/>
<text class="lb" x="693.8" y="671.0">Gorenja vas-Poljane</text>
<circle cx="1328.8" cy="468.0" r="23.0" fill="rgb(0,160,0)" fill-opacity="0.5"/>
<polyline points="1025.0,529.5 1120.0,513.5 1252.5,495.5 1328.8,468.0" fill="none" stroke="rgb(0,160,0)" stroke-opacity=".55" stroke-width=".9"/>
<text class="nm" x="1328.8" y="458.7">4,73</text>
<text class="lb" x="1328.8" y="472.0">Jesenice</text>
<text class="nm" x="1328.8" y="485.3">1826</text>
<circle cx="1001.0" cy="633.3" r="37.5" fill="rgb(0,160,0)" fill-opacity="0.5"/>
<polyline points="873.0,675.0 986.7,636.7 1001.0,633.3" fill="none" stroke="rgb(0,160,0)" stroke-opacity=".55" stroke-width=".9"/>
<text class="nm" x="1001.0" y="624.0">3,40</text>
<text class="lb" x="1001.0" y="637.3">Kranj</text>
<text class="nm" x="1001.0" y="650.6">1363</text>
<circle cx="858.8" cy="435.0" r="12.0" fill="rgb(0,160,0)" fill-opacity="0.5"/>
<polyline points="770.0,560.0 855.0,417.0 841.2,367.5 731.0,520.0 681.0,603.0 693.8,570.0 757.5,412.5 858.8,322.5 858.8,435.0" fill="none" stroke="rgb(0,160,0)" stroke-opacity=".55" stroke-width=".9"/>
<text class="lb" x="858.8" y="420.0">Kranjska Gora</text>
<circle cx="1316.0" cy="875.8" r="12.0" fill="rgb(0,160,0)" fill-opacity="0.5"/>
<polyline points="1185.0,863.3 1316.0,875.8" fill="none" stroke="rgb(0,160,0)" stroke-opacity=".55" stroke-width=".9"/>
<text class="lb" x="1316.0" y="860.8">Naklo</text>
<circle cx="1088.0" cy="793.0" r="21.0" fill="rgb(0,160,0)" fill-opacity="0.5"/>
<polyline points="903.4,862.5 951.9,837.0 1029.2,799.2 1088.0,793.0" fill="none" stroke="rgb(0,160,0)" stroke-opacity=".55" stroke-width=".9"/>
<text class="nm" x="1088.0" y="783.7">2,11</text>
<text class="lb" x="1088.0" y="797.0">Radovljica</text>
<text class="nm" x="1088.0" y="810.3">1487</text>
<circle cx="913.0" cy="725.0" r="14.0" fill="rgb(0,160,0)" fill-opacity="0.5"/>
<polyline points="638.6,728.6 752.3,641.0 851.1,692.6 913.0,725.0" fill="none" stroke="rgb(0,160,0)" stroke-opacity=".55" stroke-width=".9"/>
<text class="lb" x="913.0" y="708.0">Šenčur</text>
<circle cx="1036.0" cy="730.0" r="24.0" fill="rgb(0,160,0)" fill-opacity="0.5"/>
<polyline points="771.3,860.4 870.5,772.7 979.5,744.2 1036.0,730.0" fill="none" stroke="rgb(0,160,0)" stroke-opacity=".55" stroke-width=".9"/>
<text class="nm" x="1036.0" y="720.7">2,62</text>
<text class="lb" x="1036.0" y="734.0">Škofja Loka</text>
<text class="nm" x="1036.0" y="747.3">1414</text>
<circle cx="744.0" cy="756.0" r="19.0" fill="rgb(0,160,0)" fill-opacity="0.5"/>
<polyline points="581.9,824.6 638.1,801.4 744.0,756.0" fill="none" stroke="rgb(0,160,0)" stroke-opacity=".55" stroke-width=".9"/>
<text class="lb" x="744.0" y="734.0">Tržič</text>
<circle cx="935.8" cy="353.0" r="12.0" fill="rgb(0,160,0)" fill-opacity="0.5"/>
<polyline points="526.0,752.5 640.0,645.0 755.0,586.7 913.8,368.8 935.8,353.0" fill="none" stroke="rgb(0,160,0)" stroke-opacity=".55" stroke-width=".9"/>
<text class="lb" x="935.8" y="338.0">Železniki</text>
<circle cx="550.8" cy="832.0" r="10.3" fill="rgb(0,160,0)" fill-opacity="0.5"/>
<polyline points="412.6,892.7 450.1,876.6 550.8,832.0" fill="none" stroke="rgb(0,160,0)" stroke-opacity=".55" stroke-width=".9"/>
<text class="lb" x="550.8" y="818.7">Žiri</text>
<circle cx="1107.7" cy="736.0" r="10.3" fill="rgb(0,160,0)" fill-opacity="0.5"/>
<polyline points="725.2,763.7 839.0,729.4 928.8,752.5 1026.0,698.0 1107.7,736.0" fill="none" stroke="rgb(0,160,0)" stroke-opacity=".55" stroke-width=".9"/>
<text class="lb" x="1107.7" y="722.7">Žirovnica</text>
<circle cx="1158.3" cy="666.3" r="18.0" fill="rgb(154,205,50)" fill-opacity="0.5"/>
<polyline points="907.0,644.5 970.0,598.5 1057.5,600.0 1135.0,622.5 1158.0,666.0" fill="none" stroke="rgb(154,205,50)" stroke-opacity=".55" stroke-width=".9"/>
<text class="lb" x="1158.3" y="645.3">Cerknica</text>
<circle cx="609.0" cy="824.0" r="18.0" fill="rgb(154,205,50)" fill-opacity="0.5"/>
<polyline points="383.5,839.8 459.6,857.4 550.1,834.5 609.0,824.0" fill="none" stroke="rgb(154,205,50)" stroke-opacity=".55" stroke-width=".9"/>
<text class="lb" x="609.0" y="803.0">Ilirska Bistrica</text>
<circle cx="663.8" cy="713.8" r="12.0" fill="rgb(154,205,50)" fill-opacity="0.5"/>
<polyline points="616.7,743.0 652.5,702.5 663.8,713.8" fill="none" stroke="rgb(154,205,50)" stroke-opacity=".55" stroke-width=".9"/>
<text class="lb" x="663.8" y="698.8">Pivka</text>
<circle cx="900.8" cy="707.5" r="21.0" fill="rgb(154,205,50)" fill-opacity="0.5"/>
<polyline points="603.8,728.2 655.1,714.2 774.8,754.4 852.1,725.4 900.8,707.5" fill="none" stroke="rgb(154,205,50)" stroke-opacity=".55" stroke-width=".9"/>
<text class="nm" x="900.8" y="698.2">2,81</text>
<text class="lb" x="900.8" y="711.5">Postojna</text>
<text class="nm" x="900.8" y="724.8">1223</text>
<circle cx="1010.0" cy="760.0" r="22.0" fill="rgb(218,165,32)" fill-opacity="0.5"/>
<polyline points="895.7,802.0 947.9,790.7 1010.0,760.0" fill="none" stroke="rgb(218,165,32)" stroke-opacity=".55" stroke-width=".9"/>
<text class="nm" x="1010.0" y="750.7">2,38</text>
<text class="lb" x="1010.0" y="764.0">Ajdovščina</text>
<text class="nm" x="1010.0" y="777.3">1378</text>
<circle cx="1410.0" cy="805.0" r="12.0" fill="rgb(218,165,32)" fill-opacity="0.5"/>
<polyline points="1095.0,879.0 1371.7,824.0 1410.0,804.0" fill="none" stroke="rgb(218,165,32)" stroke-opacity=".55" stroke-width=".9"/>
<text class="lb" x="1410.0" y="790.0">Brda</text>
<circle cx="1085.0" cy="119.0" r="10.0" fill="rgb(218,165,32)" fill-opacity="0.5"/>
<polyline points="620.0,730.0 715.0,557.0 927.0,300.0 1022.0,173.0 1085.0,119.0" fill="none" stroke="rgb(218,165,32)" stroke-opacity=".55" stroke-width=".9"/>
<text class="lb" x="1085.0" y="106.0">Cerkno</text>
<circle cx="1206.0" cy="160.0" r="18.0" fill="rgb(218,165,32)" fill-opacity="0.5"/>
<polyline points="960.0,50.0 947.5,301.0 1103.0,172.0 1206.0,160.0" fill="none" stroke="rgb(218,165,32)" stroke-opacity=".55" stroke-width=".9"/>
<text class="lb" x="1206.0" y="139.0">Idrija</text>
<circle cx="1038.0" cy="612.5" r="11.7" fill="rgb(218,165,32)" fill-opacity="0.5"/>
<polyline points="690.0,725.0 770.0,676.7 944.0,559.0 985.0,612.0 1038.0,612.5" fill="none" stroke="rgb(218,165,32)" stroke-opacity=".55" stroke-width=".9"/>
<text class="lb" x="1038.0" y="597.8">Kanal</text>
<circle cx="1885.8" cy="807.0" r="10.5" fill="rgb(218,165,32)" fill-opacity="0.5"/>
<polyline points="1540.0,860.8 1855.0,853.2 1885.8,807.0" fill="none" stroke="rgb(218,165,32)" stroke-opacity=".55" stroke-width=".9"/>
<text class="lb" x="1885.8" y="793.5">Kobarid</text>
<circle cx="918.3" cy="690.0" r="11.0" fill="rgb(218,165,32)" fill-opacity="0.5"/>
<polyline points="667.1,784.6 784.4,749.4 848.1,733.5 918.3,690.0" fill="none" stroke="rgb(218,165,32)" stroke-opacity=".55" stroke-width=".9"/>
<text class="lb" x="918.3" y="676.0">Miren-Kostanjevica</text>
<circle cx="993.5" cy="753.0" r="28.0" fill="rgb(218,165,32)" fill-opacity="0.5"/>
<polyline points="591.1,823.2 708.4,787.8 780.1,755.6 891.3,699.1 993.5,753.0" fill="none" stroke="rgb(218,165,32)" stroke-opacity=".55" stroke-width=".9"/>
<text class="nm" x="993.5" y="743.7">2,44</text>
<text class="lb" x="993.5" y="757.0">Nova Gorica</text>
<text class="nm" x="993.5" y="770.3">1355</text>
<circle cx="1075.0" cy="710.0" r="10.3" fill="rgb(218,165,32)" fill-opacity="0.5"/>
<polyline points="768.8,817.7 843.6,775.9 957.7,668.3 1075.0,710.0" fill="none" stroke="rgb(218,165,32)" stroke-opacity=".55" stroke-width=".9"/>
<text class="lb" x="1075.0" y="696.7">Renče-Vogrsko</text>
<circle cx="1181.0" cy="800.0" r="12.0" fill="rgb(218,165,32)" fill-opacity="0.5"/>
<polyline points="885.0,894.0 1089.0,856.0 1150.0,830.0 1181.0,800.0" fill="none" stroke="rgb(218,165,32)" stroke-opacity=".55" stroke-width=".9"/>
<text class="lb" x="1181.0" y="785.0">Šempeter-Vrtojba</text>
<circle cx="962.5" cy="742.5" r="16.0" fill="rgb(218,165,32)" fill-opacity="0.5"/>
<polyline points="799.4,861.7 914.4,772.2 962.5,742.5" fill="none" stroke="rgb(218,165,32)" stroke-opacity=".55" stroke-width=".9"/>
<text class="lb" x="962.5" y="723.5">Tolmin</text>
<circle cx="1190.0" cy="770.8" r="12.0" fill="rgb(218,165,32)" fill-opacity="0.5"/>
<polyline points="1006.3,801.4 1102.1,750.5 1147.8,759.7 1190.0,770.8" fill="none" stroke="rgb(218,165,32)" stroke-opacity=".55" stroke-width=".9"/>
<text class="lb" x="1190.0" y="755.8">Vipava</text>
<circle cx="618.0" cy="694.3" r="10.3" fill="rgb(32,178,170)" fill-opacity="0.5"/>
<polyline points="470.0,790.0 526.7,752.5 617.5,694.0" fill="none" stroke="rgb(32,178,170)" stroke-opacity=".55" stroke-width=".9"/>
<text class="lb" x="618.0" y="681.0">Divača</text>
<circle cx="672.0" cy="876.0" r="10.3" fill="rgb(32,178,170)" fill-opacity="0.5"/>
<polyline points="560.0,800.0 580.8,852.0 596.7,901.3 672.0,875.3" fill="none" stroke="rgb(32,178,170)" stroke-opacity=".55" stroke-width=".9"/>
<text class="lb" x="672.0" y="862.7">Hrpelje-Kozina</text>
<circle cx="808.0" cy="836.7" r="21.0" fill="rgb(32,178,170)" fill-opacity="0.5"/>
<polyline points="574.1,846.4 609.9,839.2 677.9,828.2 718.9,815.4 808.0,836.7" fill="none" stroke="rgb(32,178,170)" stroke-opacity=".55" stroke-width=".9"/>
<text class="nm" x="808.0" y="827.4">1,76</text>
<text class="lb" x="808.0" y="840.7">Izola</text>
<text class="nm" x="808.0" y="854.0">1091</text>
<circle cx="1057.5" cy="794.0" r="37.0" fill="rgb(32,178,170)" fill-opacity="0.5"/>
<polyline points="817.9,836.1 912.8,847.7 967.7,838.2 1057.5,794.0" fill="none" stroke="rgb(32,178,170)" stroke-opacity=".55" stroke-width=".9"/>
<text class="nm" x="1057.5" y="784.7">2,10</text>
<text class="lb" x="1057.5" y="798.0">Koper</text>
<text class="nm" x="1057.5" y="811.3">1442</text>
<circle cx="881.7" cy="818.3" r="21.0" fill="rgb(32,178,170)" fill-opacity="0.5"/>
<polyline points="640.2,838.4 717.1,807.8 771.5,793.6 881.7,818.3" fill="none" stroke="rgb(32,178,170)" stroke-opacity=".55" stroke-width=".9"/>
<text class="nm" x="881.7" y="809.0">1,91</text>
<text class="lb" x="881.7" y="822.3">Piran</text>
<text class="nm" x="881.7" y="835.6">1195</text>
<circle cx="743.8" cy="541.0" r="19.5" fill="rgb(32,178,170)" fill-opacity="0.5"/>
<polyline points="501.2,668.8 533.8,745.0 743.8,541.0" fill="none" stroke="rgb(32,178,170)" stroke-opacity=".55" stroke-width=".9"/>
<text class="lb" x="743.8" y="518.5">Sežana</text>
</g>
<g opacity="1"><rect x="45" y="1047" width="28" height="6.16667" fill="#fff"/><rect x="45" y="1053.17" width="28" height="6.16667" fill="#0000ff"/><rect x="45" y="1059.33" width="28" height="6.16667" fill="#ff0000"/><path d="M50.04 1048.85 h4.2 v4.625 l-2.1 2.405 l-2.1 -2.405 z" fill="#1a1acc" stroke="#d22" stroke-width="0.35"/><path d="M50.6 1053.29 l1.54 -2.22 l1.54 2.22 z" fill="#fff"/></g>
<path d="M279.0 277.5 L440.0 277.5 A161.0 161.0 0 0 1 430.3 332.5 Z" fill="rgb(160,82,45)" stroke="#b4b4b4" stroke-width="1"/>
<path d="M278.5 278.4 L435.4 335.5 A167.0 167.0 0 0 1 319.7 440.2 Z" fill="rgb(160,0,160)" stroke="#b4b4b4" stroke-width="1"/>
<path d="M277.6 278.8 L320.9 448.4 A175.0 175.0 0 0 1 285.3 453.6 Z" fill="rgb(160,0,0)" stroke="#b4b4b4" stroke-width="1"/>
<path d="M276.9 278.7 L286.0 487.0 A208.5 208.5 0 0 1 137.9 434.1 Z" fill="rgb(255,127,80)" stroke="#b4b4b4" stroke-width="1"/>
<path d="M276.2 278.3 L160.9 407.3 A173.0 173.0 0 0 1 140.3 385.3 Z" fill="rgb(112,128,144)" stroke="#b4b4b4" stroke-width="1"/>
<path d="M276.0 278.0 L119.3 401.4 A199.5 199.5 0 0 1 95.2 362.4 Z" fill="rgb(128,128,0)" stroke="#b4b4b4" stroke-width="1"/>
<path d="M275.8 277.5 L81.4 368.2 A214.5 214.5 0 0 1 61.3 277.5 Z" fill="rgb(220,20,60)" stroke="#b4b4b4" stroke-width="1"/>
<path d="M276.3 274.4 L43.8 274.4 A232.5 232.5 0 0 1 295.4 42.7 Z" fill="rgb(30,144,255)" stroke="#b4b4b4" stroke-width="1"/>
<path d="M278.0 274.1 L296.1 53.9 A221.0 221.0 0 0 1 421.5 106.1 Z" fill="rgb(0,160,0)" stroke="#b4b4b4" stroke-width="1"/>
<path d="M278.5 274.5 L410.4 120.1 A203.0 203.0 0 0 1 432.9 142.6 Z" fill="rgb(154,205,50)" stroke="#b4b4b4" stroke-width="1"/>
<path d="M278.8 274.8 L454.1 125.1 A230.5 230.5 0 0 1 495.4 196.0 Z" fill="rgb(218,165,32)" stroke="#b4b4b4" stroke-width="1"/>
<path d="M279.0 275.3 L477.3 203.2 A211.0 211.0 0 0 1 490.0 275.3 Z" fill="rgb(32,178,170)" stroke="#b4b4b4" stroke-width="1"/>
<text class="pl" x="148.0" y="140.6">OS</text>
<text class="pl" x="344.0" y="114.1">GO</text>
<text class="pl" x="393.0" y="164.1">PN</text>
<text class="pl" x="436.5" y="186.1">GŠ</text>
<text class="pl" x="444.0" y="250.1">OK</text>
<text class="pl" x="405.0" y="303.1">PM</text>
<text class="pl" x="368.0" y="380.1">PD</text>
<text class="pl" x="296.0" y="421.1">KO</text>
<text class="pl" x="219.0" y="439.1">SA</text>
<text class="pl" x="173.5" y="376.1">ZA</text>
<text class="pl" x="139.5" y="365.1">PS</text>
<text class="pl" x="106.0" y="319.1">JV</text>
<circle cx="277.4" cy="276.4" r="19.8" fill="#f7f5f5" fill-opacity=".93" stroke="#777" stroke-width="1"/>
<text x="277.4" y="281.0" text-anchor="middle" style="font-size:13.5px;fill:#2f4f4f;stroke:#2f4f4f;stroke-width:.3px">7d</text>
<text x="13.3" y="17" textLength="17.5" lengthAdjust="spacingAndGlyphs" style="font-size:10.5px;fill:#2f4f4f;stroke:#2f4f4f;stroke-width:.2px">ned</text>
<text x="36.5" y="26.4" textLength="81" lengthAdjust="spacingAndGlyphs" style="font-size:20.5px;font-weight:bold;fill:#bcbcc6;stroke:#bcbcc6;stroke-width:.7px">9.1.2022</text>
<text x="35" y="25" textLength="81" lengthAdjust="spacingAndGlyphs" style="font-size:20.5px;font-weight:bold;fill:#000080;stroke:#000080;stroke-width:.7px">9.1.2022</text>
<rect x="163.6" y="7.7" width="34.6" height="19.4" fill="rgb(160,82,45)"/>
<text class="lg" x="166.6" y="22.8" textLength="21.5" lengthAdjust="spacingAndGlyphs">PM</text>
<text x="188.2" y="18.3" style="font-size:8.5px;fill:#fff">✦</text>
<rect x="201.6" y="7.7" width="34.6" height="19.4" fill="rgb(160,0,160)"/>
<text class="lg" x="204.6" y="22.8" textLength="21.5" lengthAdjust="spacingAndGlyphs">PD</text>
<text x="226.2" y="18.3" style="font-size:8.5px;fill:#fff">✦</text>
<rect x="239.6" y="7.7" width="34.6" height="19.4" fill="rgb(160,0,0)"/>
<text class="lg" x="242.6" y="22.8" textLength="21.5" lengthAdjust="spacingAndGlyphs">KO</text>
<text x="264.2" y="18.3" style="font-size:8.5px;fill:#fff">✦</text>
<rect x="277.6" y="7.7" width="34.6" height="19.4" fill="rgb(255,127,80)"/>
<text class="lg" x="280.6" y="22.8" textLength="21.5" lengthAdjust="spacingAndGlyphs">SA</text>
<text x="302.2" y="18.3" style="font-size:8.5px;fill:#fff">✦</text>
<rect x="315.6" y="7.7" width="34.6" height="19.4" fill="rgb(112,128,144)"/>
<text class="lg" x="318.6" y="22.8" textLength="21.5" lengthAdjust="spacingAndGlyphs">ZA</text>
<text x="340.2" y="18.3" style="font-size:8.5px;fill:#fff">✦</text>
<rect x="353.6" y="7.7" width="34.6" height="19.4" fill="rgb(128,128,0)"/>
<text class="lg" x="356.6" y="22.8" textLength="21.5" lengthAdjust="spacingAndGlyphs">PS</text>
<text x="378.2" y="18.3" style="font-size:8.5px;fill:#fff">✦</text>
<rect x="391.6" y="7.7" width="34.6" height="19.4" fill="rgb(220,20,60)"/>
<text class="lg" x="394.6" y="22.8" textLength="21.5" lengthAdjust="spacingAndGlyphs">JV</text>
<text x="416.2" y="18.3" style="font-size:8.5px;fill:#fff">✦</text>
<rect x="429.6" y="7.7" width="34.6" height="19.4" fill="rgb(30,144,255)"/>
<text class="lg" x="432.6" y="22.8" textLength="21.5" lengthAdjust="spacingAndGlyphs">OS</text>
<text x="454.2" y="18.3" style="font-size:8.5px;fill:#fff">✦</text>
<rect x="467.6" y="7.7" width="34.6" height="19.4" fill="rgb(0,160,0)"/>
<text class="lg" x="470.6" y="22.8" textLength="21.5" lengthAdjust="spacingAndGlyphs">GO</text>
<text x="492.2" y="18.3" style="font-size:8.5px;fill:#fff">✦</text>
<rect x="505.6" y="7.7" width="34.6" height="19.4" fill="rgb(154,205,50)"/>
<text class="lg" x="508.6" y="22.8" textLength="21.5" lengthAdjust="spacingAndGlyphs">PN</text>
<text x="530.2" y="18.3" style="font-size:8.5px;fill:#fff">✦</text>
<rect x="543.6" y="7.7" width="34.6" height="19.4" fill="rgb(218,165,32)"/>
<text class="lg" x="546.6" y="22.8" textLength="21.5" lengthAdjust="spacingAndGlyphs">GŠ</text>
<text x="568.2" y="18.3" style="font-size:8.5px;fill:#fff">✦</text>
<rect x="581.6" y="7.7" width="34.6" height="19.4" fill="rgb(32,178,170)"/>
<text class="lg" x="584.6" y="22.8" textLength="21.5" lengthAdjust="spacingAndGlyphs">OK</text>
<text x="606.2" y="18.3" style="font-size:8.5px;fill:#fff">✦</text>
<circle cx="802" cy="18.5" r="4.5" fill="#ffff66" stroke="#bbb" stroke-width=".7"/>
<circle cx="913" cy="18.5" r="4.5" fill="#ffff66" stroke="#bbb" stroke-width=".7"/>
<rect x="801" y="9.3" width="112.5" height="18" fill="#ffff00" stroke="#aaa" stroke-width=".8"/>
<text x="857.2" y="23" text-anchor="middle" style="font-size:13.5px;fill:#2f4f4f;stroke:#2f4f4f;stroke-width:.3px">populacija &gt; 4000</text>
<text x="1712.7" y="20" textLength="115" lengthAdjust="spacingAndGlyphs" style="font-size:13px;fill:#222">https://covidslo.net</text>
<text x="1834" y="20.5" style="font-size:16px;font-weight:bold;fill:#0000ff;letter-spacing:.2px">covid<tspan fill="#ff0000" dx="2">SLO</tspan></text>
<rect x="1749" y="26.5" width="167" height="15" fill="#fff"/>
<text x="1914" y="38" text-anchor="end" textLength="160" lengthAdjust="spacingAndGlyphs" style="font-size:13px;fill:#2f4f4f;stroke:#2f4f4f;stroke-width:.25px">Peter Malovrh, ©2020-2022</text>
</svg>
<div id="frame"></div><div id="frame2"></div>
</body></html>
